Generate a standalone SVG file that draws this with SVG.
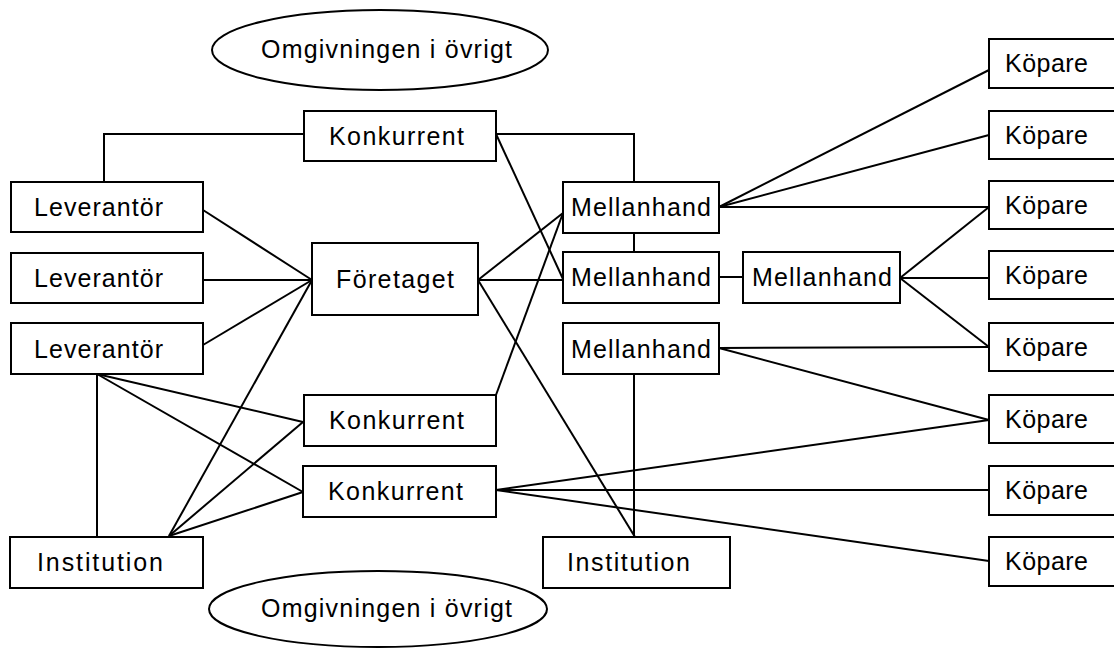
<svg xmlns="http://www.w3.org/2000/svg" width="1114" height="648" viewBox="0 0 1114 648">
<style>
.box{fill:#fff;stroke:#000;stroke-width:2}
.lbl{font-family:"Liberation Sans",Arial,sans-serif;font-size:25px;fill:#000}
.ln{fill:none;stroke:#000;stroke-width:2}
</style>
<rect width="1114" height="648" fill="#fff"/>
<g id="connectors">
<polyline class="ln" points="304,134 104,134 104,182"/>
<polyline class="ln" points="496,134 634,134 634,182"/>
<line class="ln" x1="496" y1="134" x2="563" y2="279"/>
<line class="ln" x1="203" y1="210" x2="312" y2="280"/>
<line class="ln" x1="203" y1="280" x2="312" y2="280"/>
<line class="ln" x1="203" y1="345" x2="312" y2="280"/>
<line class="ln" x1="169" y1="536" x2="312" y2="280"/>
<line class="ln" x1="169" y1="536" x2="303" y2="422"/>
<line class="ln" x1="169" y1="536" x2="303" y2="492"/>
<line class="ln" x1="97" y1="374" x2="303" y2="422"/>
<line class="ln" x1="97" y1="374" x2="303" y2="492"/>
<line class="ln" x1="97" y1="374" x2="97" y2="537"/>
<line class="ln" x1="478" y1="280" x2="563" y2="213"/>
<line class="ln" x1="478" y1="280" x2="563" y2="280"/>
<line class="ln" x1="478" y1="280" x2="635" y2="537"/>
<line class="ln" x1="496" y1="395" x2="563" y2="213"/>
<line class="ln" x1="634" y1="233" x2="634" y2="252"/>
<line class="ln" x1="719" y1="277" x2="743" y2="277"/>
<line class="ln" x1="634" y1="374" x2="634" y2="537"/>
<line class="ln" x1="719" y1="207" x2="989" y2="70"/>
<line class="ln" x1="719" y1="207" x2="989" y2="135"/>
<line class="ln" x1="719" y1="207" x2="989" y2="207"/>
<line class="ln" x1="900" y1="278" x2="989" y2="207"/>
<line class="ln" x1="900" y1="278" x2="989" y2="278"/>
<line class="ln" x1="900" y1="278" x2="989" y2="347"/>
<line class="ln" x1="719" y1="348" x2="989" y2="347"/>
<line class="ln" x1="719" y1="348" x2="989" y2="420"/>
<line class="ln" x1="496" y1="490" x2="989" y2="420"/>
<line class="ln" x1="496" y1="490" x2="989" y2="490"/>
<line class="ln" x1="496" y1="490" x2="989" y2="561"/>
</g>
<g id="omgivning-top"><ellipse class="box" cx="380" cy="50" rx="168" ry="40"/><text class="lbl" x="261" y="58" textLength="251">Omgivningen i övrigt</text></g>
<g id="omgivning-bottom"><ellipse class="box" cx="378" cy="609" rx="169" ry="38"/><text class="lbl" x="261" y="617" textLength="251">Omgivningen i övrigt</text></g>
<g id="konkurrent1"><rect class="box" x="304" y="111" width="192" height="50"/><text class="lbl" x="329" y="145" textLength="135">Konkurrent</text></g>
<g id="leverantor1"><rect class="box" x="11" y="182" width="192" height="50"/><text class="lbl" x="34" y="216" textLength="129">Leverantör</text></g>
<g id="leverantor2"><rect class="box" x="11" y="253" width="192" height="50"/><text class="lbl" x="34" y="287" textLength="129">Leverantör</text></g>
<g id="leverantor3"><rect class="box" x="11" y="323" width="192" height="51"/><text class="lbl" x="34" y="358" textLength="129">Leverantör</text></g>
<g id="foretaget"><rect class="box" x="312" y="243" width="166" height="72"/><text class="lbl" x="336" y="288" textLength="118">Företaget</text></g>
<g id="konkurrent2"><rect class="box" x="304" y="395" width="192" height="51"/><text class="lbl" x="329" y="429" textLength="135">Konkurrent</text></g>
<g id="konkurrent3"><rect class="box" x="303" y="466" width="193" height="51"/><text class="lbl" x="328" y="500" textLength="135">Konkurrent</text></g>
<g id="institution1"><rect class="box" x="10" y="537" width="193" height="51"/><text class="lbl" x="37" y="571" textLength="126">Institution</text></g>
<g id="mellanhand1"><rect class="box" x="563" y="182" width="156" height="51"/><text class="lbl" x="571" y="216" textLength="140">Mellanhand</text></g>
<g id="mellanhand2"><rect class="box" x="563" y="252" width="156" height="51"/><text class="lbl" x="571" y="286" textLength="140">Mellanhand</text></g>
<g id="mellanhand3"><rect class="box" x="743" y="252" width="157" height="51"/><text class="lbl" x="752" y="286" textLength="140">Mellanhand</text></g>
<g id="mellanhand4"><rect class="box" x="563" y="323" width="156" height="51"/><text class="lbl" x="571" y="358" textLength="140">Mellanhand</text></g>
<g id="institution2"><rect class="box" x="543" y="537" width="187" height="51"/><text class="lbl" x="567" y="571" textLength="123">Institution</text></g>
<g id="kopare1"><rect class="box" x="989" y="39" width="140" height="49"/><text class="lbl" x="1005" y="72" textLength="83">Köpare</text></g>
<g id="kopare2"><rect class="box" x="989" y="111" width="140" height="48"/><text class="lbl" x="1005" y="144" textLength="83">Köpare</text></g>
<g id="kopare3"><rect class="box" x="989" y="181" width="140" height="48"/><text class="lbl" x="1005" y="214" textLength="83">Köpare</text></g>
<g id="kopare4"><rect class="box" x="989" y="251" width="140" height="48"/><text class="lbl" x="1005" y="284" textLength="83">Köpare</text></g>
<g id="kopare5"><rect class="box" x="989" y="323" width="140" height="48"/><text class="lbl" x="1005" y="356" textLength="83">Köpare</text></g>
<g id="kopare6"><rect class="box" x="989" y="395" width="140" height="48"/><text class="lbl" x="1005" y="428" textLength="83">Köpare</text></g>
<g id="kopare7"><rect class="box" x="989" y="466" width="140" height="49"/><text class="lbl" x="1005" y="499" textLength="83">Köpare</text></g>
<g id="kopare8"><rect class="box" x="989" y="537" width="140" height="49"/><text class="lbl" x="1005" y="570" textLength="83">Köpare</text></g>
</svg>
